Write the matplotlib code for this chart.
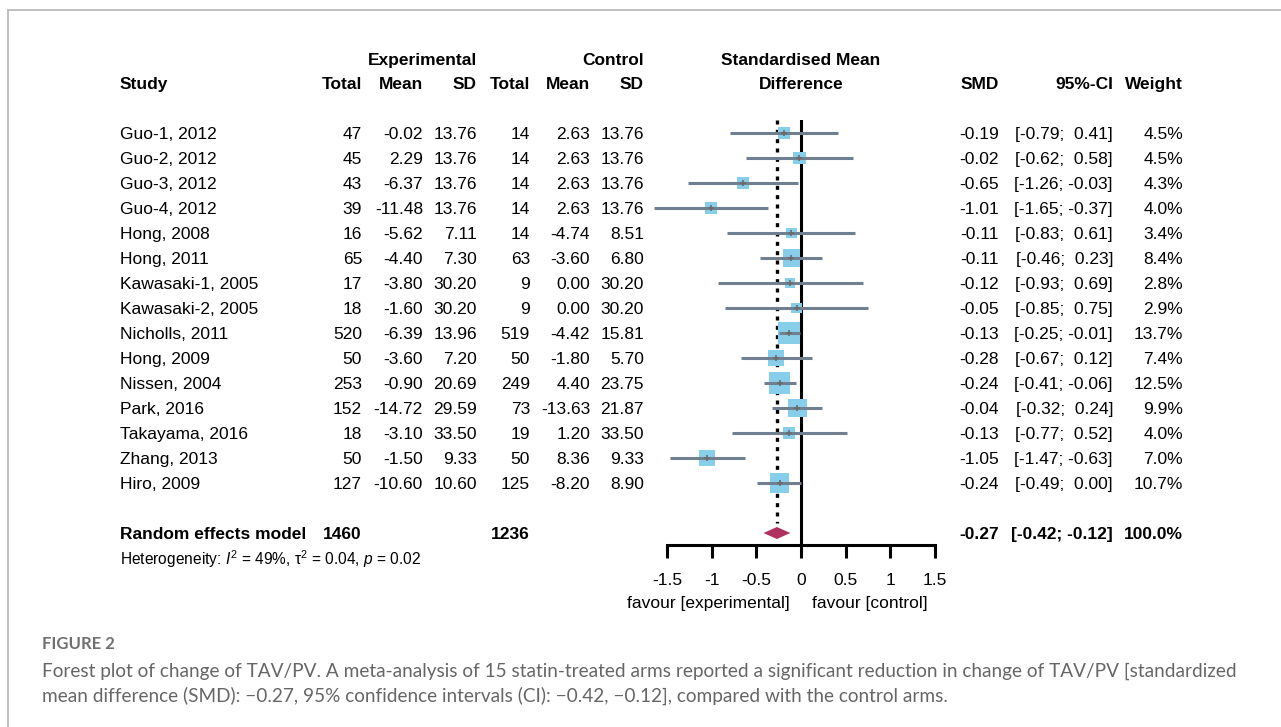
import matplotlib
matplotlib.use('Agg')
import matplotlib.pyplot as plt
import matplotlib.transforms as mtransforms
import numpy as np

plt.rcParams['font.family'] = ['Liberation Sans', 'DejaVu Sans']
plt.rcParams['mathtext.fontset'] = 'custom'
plt.rcParams['mathtext.rm'] = 'Liberation Sans'
plt.rcParams['mathtext.it'] = 'Liberation Sans:italic'

# data
studies = ["Guo-1, 2012", "Guo-2, 2012", "Guo-3, 2012", "Guo-4, 2012", "Hong, 2008",
           "Hong, 2011", "Kawasaki-1, 2005", "Kawasaki-2, 2005", "Nicholls, 2011",
           "Hong, 2009", "Nissen, 2004", "Park, 2016", "Takayama, 2016", "Zhang, 2013",
           "Hiro, 2009"]
exp_n = [47, 45, 43, 39, 16, 65, 17, 18, 520, 50, 253, 152, 18, 50, 127]
exp_mean = [-0.02, 2.29, -6.37, -11.48, -5.62, -4.40, -3.80, -1.60, -6.39, -3.60,
            -0.90, -14.72, -3.10, -1.50, -10.60]
exp_sd = [13.76, 13.76, 13.76, 13.76, 7.11, 7.30, 30.20, 30.20, 13.96, 7.20,
          20.69, 29.59, 33.50, 9.33, 10.60]
ctrl_n = [14, 14, 14, 14, 14, 63, 9, 9, 519, 50, 249, 73, 19, 50, 125]
ctrl_mean = [2.63, 2.63, 2.63, 2.63, -4.74, -3.60, 0.00, 0.00, -4.42, -1.80,
             4.40, -13.63, 1.20, 8.36, -8.20]
ctrl_sd = [13.76, 13.76, 13.76, 13.76, 8.51, 6.80, 30.20, 30.20, 15.81, 5.70,
           23.75, 21.87, 33.50, 9.33, 8.90]
smd = [-0.19, -0.02, -0.65, -1.01, -0.11, -0.11, -0.12, -0.05, -0.13, -0.28,
       -0.24, -0.04, -0.13, -1.05, -0.24]
ci_lo = [-0.79, -0.62, -1.26, -1.65, -0.83, -0.46, -0.93, -0.85, -0.25, -0.67,
         -0.41, -0.32, -0.77, -1.47, -0.49]
ci_hi = [0.41, 0.58, -0.03, -0.37, 0.61, 0.23, 0.69, 0.75, -0.01, 0.12,
         -0.06, 0.24, 0.52, -0.63, 0.00]
weight = [4.5, 4.5, 4.3, 4.0, 3.4, 8.4, 2.8, 2.9, 13.7, 7.4, 12.5, 9.9, 4.0, 7.0, 10.7]

pooled_n = [1460, 1236]
pooled_smd = -0.27
pooled_lo = -0.42
pooled_hi = -0.12
xticks = [-1.5, -1, -0.5, 0, 0.5, 1, 1.5]
xticklabels = ['-1.5', '-1', '-0.5', '0', '0.5', '1', '1.5']

W, H = 1281, 727
fig = plt.figure(figsize=(W / 100, H / 100), dpi=100)

# forest panel placed in pixel terms
ax = fig.add_axes([667 / W, 1 - 545 / H, 268 / W, 425 / H])
ax.set_xlim(-1.5, 1.5)
ax.set_ylim(16.48, -0.52)
for s in ['top', 'left', 'right']:
    ax.spines[s].set_visible(False)
ax.spines['bottom'].set_linewidth(2.2)
ax.set_yticks([])
ax.set_xticks(xticks)
ax.set_xticklabels(xticklabels, fontsize=12.5)
ax.tick_params(axis='x', length=9, width=2.2, pad=11)
ax.patch.set_alpha(0)

rows = np.arange(len(studies))
ax.axvline(0, color='black', lw=2.2, zorder=1)
ax.plot([pooled_smd, pooled_smd], [-0.52, 15.6], color='black', lw=2.4,
        ls=(0, (1.2, 1.6)), zorder=1)

side_px = 5.95 * np.sqrt(np.array(weight))
ax.scatter(smd, rows, marker='s', s=(side_px * 0.72) ** 2, color='#87CEEB',
           edgecolors='none', zorder=2, clip_on=False)
ax.hlines(rows, ci_lo, ci_hi, color='#708090', lw=2.2, zorder=3, clip_on=False)
ax.scatter(smd, rows, marker='+', s=25, color='#6b6b6b', linewidths=1.2, zorder=4,
           clip_on=False)

ax.fill([pooled_lo, pooled_smd, pooled_hi, pooled_smd], [16, 15.76, 16, 16.24],
        color='#B03060', lw=0, zorder=3)

tr = mtransforms.blended_transform_factory(fig.transFigure, ax.transData)
fs = 12.5
dy = 0.0


def put(px, row, s, ha='right', bold=False, size=fs, **kw):
    fig.text(px / W, row + dy, s, ha=ha, va='center_baseline', fontsize=size,
             fontweight='bold' if bold else 'normal', transform=tr, **kw)


# headers
put(477, -2.96, 'Experimental', bold=True)
put(644, -2.96, 'Control', bold=True)
put(801, -2.96, 'Standardised Mean', ha='center', bold=True)
put(801, -2.0, 'Difference', ha='center', bold=True)
put(120, -2.0, 'Study', ha='left', bold=True)
for px, lab in zip([362, 423, 477, 530, 590, 644, 999, 1113, 1183],
                   ['Total', 'Mean', 'SD', 'Total', 'Mean', 'SD', 'SMD', '95%-CI', 'Weight']):
    put(px, -2.0, lab, bold=True)

# study rows
for i in rows:
    put(120, i, studies[i], ha='left')
    put(362, i, f'{exp_n[i]}')
    put(423, i, f'{exp_mean[i]:.2f}')
    put(477, i, f'{exp_sd[i]:.2f}')
    put(530, i, f'{ctrl_n[i]}')
    put(590, i, f'{ctrl_mean[i]:.2f}')
    put(644, i, f'{ctrl_sd[i]:.2f}')
    put(999, i, f'{smd[i]:.2f}')
    hi_s = f'{ci_hi[i]:.2f}'
    if ci_hi[i] >= 0:
        hi_s = ' ' + hi_s
    put(1113, i, f'[{ci_lo[i]:.2f}; {hi_s}]')
    put(1183, i, f'{weight[i]:.1f}%')

# pooled row
put(120, 16, 'Random effects model', ha='left', bold=True)
put(362, 16, f'{pooled_n[0]}', bold=True)
put(530, 16, f'{pooled_n[1]}', bold=True)
put(999, 16, f'{pooled_smd:.2f}', bold=True)
put(1113, 16, f'[{pooled_lo:.2f}; {pooled_hi:.2f}]', bold=True)
put(1183, 16, '100.0%', bold=True)
put(120, 16.96, 'Heterogeneity: $\\mathit{I}^2$ = 49%, \u03c4$^2$ = 0.04, $\\mathit{p}$ = 0.02',
    ha='left', size=11.2)

put(790, 18.76, 'favour [experimental]', ha='right')
put(928, 18.76, 'favour [control]', ha='right')

# frame and caption
fig.add_artist(plt.Line2D([8 / W, 1], [1 - 10 / H, 1 - 10 / H], color='#bbbbbb', lw=1.3))
fig.add_artist(plt.Line2D([8 / W, 8 / W], [0, 1 - 10 / H], color='#bbbbbb', lw=1.3))
fig.text(42 / W, 1 - 644 / H, 'FIGURE 2', fontsize=12, color='#707070',
         family='Lato', fontweight='bold', va='center')
fig.text(42 / W, 1 - 671 / H,
         'Forest plot of change of TAV/PV. A meta-analysis of 15 statin-treated arms reported a '
         'significant reduction in change of TAV/PV [standardized',
         fontsize=13.7, color='#666666', family='Lato', va='center')
fig.text(42 / W, 1 - 696 / H,
         'mean difference (SMD): \u22120.27, 95% confidence intervals (CI): \u22120.42, \u22120.12], '
         'compared with the control arms.',
         fontsize=13.7, color='#666666', family='Lato', va='center')

fig.savefig('out.png', dpi=100)
